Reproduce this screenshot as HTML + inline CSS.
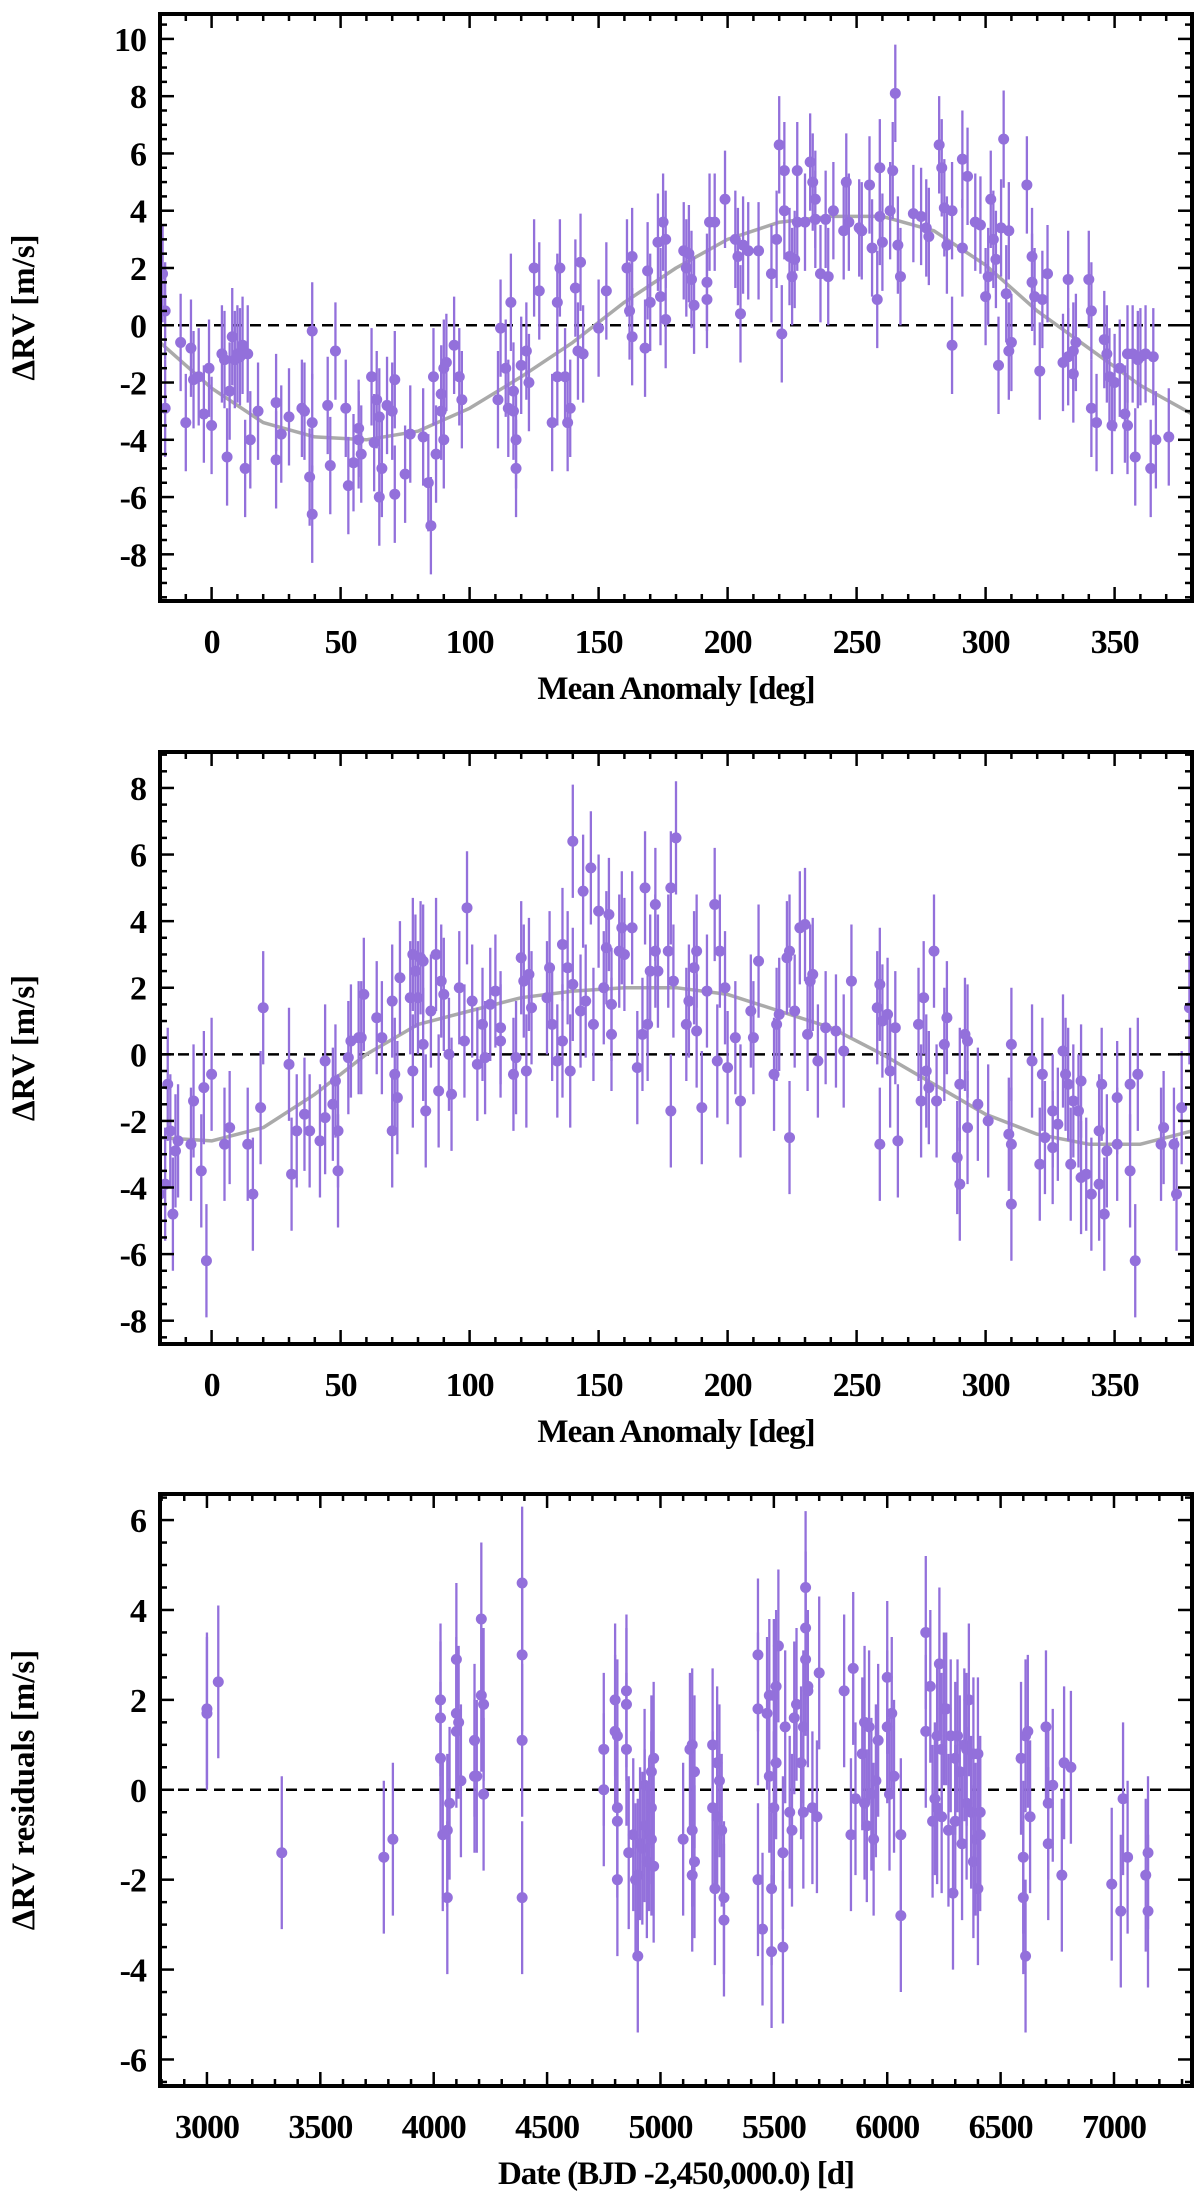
<!DOCTYPE html>
<html><head><meta charset="utf-8"><style>
html,body{margin:0;padding:0;background:#fff}
svg{display:block}
text{font-family:"Liberation Serif",serif;font-weight:bold;fill:#000}
</style></head><body>
<svg id="fig" width="1200" height="2193" viewBox="0 0 1200 2193" xmlns="http://www.w3.org/2000/svg"></svg>
<script>
// Panel 1: phase-folded RV, planet b
const p1Phase=[-19,-18,-18,-12,-10,-8,-7,-5,-3,-1,0,4,5,6,7,8,9,10,11,12,13,14,15,18,25,25,27,30,35,36,38,39,39,39,45,46,48,52,53,55,57,57,58,62,63,64,65,65,66,68,70,71,71,75,77,82,84,85,86,87,89,89,90,90,91,94,96,97,111,112,114,115,116,117,117,118,118,120,122,123,125,127,132,134,134,135,137,138,139,141,142,143,144,150,153,161,162,163,163,168,169,170,173,174,175,176,176,183,184,185,186,187,192,192,193,195,199,203,204,205,206,208,212,217,219,220,221,222,222,224,225,226,227,227,230,232,233,234,234,236,238,239,241,245,246,247,251,252,255,256,258,259,259,260,263,264,265,266,267,272,275,277,278,282,283,284,285,287,287,291,291,293,296,298,300,301,302,303,304,305,306,307,308,309,309,310,316,318,318,319,321,322,324,330,332,332,334,334,335,340,341,341,343,346,347,348,349,350,352,354,355,355,357,358,359,360,362,364,365,366,371];
const p1RV=[1.8,0.5,-2.9,-0.6,-3.4,-0.8,-1.9,-1.8,-3.1,-1.5,-3.5,-1.0,-1.2,-4.6,-2.3,-0.4,-1.2,-1.0,-1.1,-0.7,-5.0,-1.0,-4.0,-3.0,-2.7,-4.7,-3.8,-3.2,-2.9,-3.0,-5.3,-6.6,-3.4,-0.2,-2.8,-4.9,-0.9,-2.9,-5.6,-4.8,-4.0,-3.6,-4.5,-1.8,-4.1,-2.6,-6.0,-3.2,-5.0,-2.8,-3.0,-1.9,-5.9,-5.2,-3.8,-3.9,-5.5,-7.0,-1.8,-4.5,-3.0,-2.4,-1.5,-4.0,-1.3,-0.7,-1.8,-2.6,-2.6,-0.1,-1.5,-2.9,0.8,-3.0,-2.3,-5.0,-4.0,-1.4,-0.9,-2.0,2.0,1.2,-3.4,0.8,-1.8,2.0,-1.8,-3.4,-2.9,1.3,-0.9,2.2,-1.0,-0.1,1.2,2.0,0.5,2.4,-0.4,-0.8,1.9,0.8,2.9,1.0,3.6,0.2,3.0,2.6,2.0,2.5,1.6,0.7,1.5,0.9,3.6,3.6,4.4,3.0,2.4,0.4,2.8,2.6,2.6,1.8,3.0,6.3,-0.3,5.4,4.0,2.4,1.7,2.3,5.4,3.6,3.6,5.7,5.0,4.4,3.7,1.8,3.7,1.7,4.0,3.3,5.0,3.6,3.4,3.3,4.9,2.7,0.9,5.5,3.8,2.9,4.0,5.4,8.1,2.8,1.7,3.9,3.8,3.4,3.1,6.3,5.5,4.1,2.8,-0.7,4.0,2.7,5.8,5.2,3.6,3.5,1.0,1.7,4.4,3.0,2.3,-1.4,3.4,6.5,1.1,3.3,-0.9,-0.6,4.9,2.4,1.5,1.0,-1.6,0.9,1.8,-1.3,1.6,-1.1,-1.7,-0.9,-0.6,1.6,0.5,-2.9,-3.4,-0.5,-1.0,-1.8,-3.5,-2.0,-1.5,-3.1,-1.0,-3.5,-1.0,-4.6,-1.2,-1.1,-1.0,-5.0,-1.1,-4.0,-3.9];
const p1ModelPhase=[-20,0,20,40,60,80,100,120,140,160,180,200,220,240,260,280,300,320,340,360,380];
const p1ModelRV=[-0.6,-2.2,-3.4,-3.9,-4.0,-3.7,-2.9,-1.8,-0.6,0.8,2.0,3.0,3.6,3.8,3.8,3.3,2.1,0.5,-0.8,-2.1,-3.1];
const p1Err=1.7;
// Panel 2: phase-folded RV, planet c
const p2Phase=[-20,-18,-17,-16,-15,-14,-13,-8,-7,-3,-4,-2,0,5,7,14,16,19,20,30,31,33,36,38,42,44,44,47,48,49,49,53,54,57,58,59,64,66,70,70,71,72,73,77,78,78,79,80,81,82,82,83,85,87,88,89,90,92,93,96,98,99,101,103,105,106,108,110,112,112,117,118,120,121,122,123,124,130,131,132,134,136,136,138,139,140,140,143,144,145,147,148,150,152,153,154,155,155,158,159,160,163,165,167,168,169,170,172,172,173,177,178,178,179,180,184,185,187,188,188,190,192,195,196,197,199,200,203,205,209,210,212,218,219,220,223,224,224,226,228,230,231,232,233,235,238,242,245,248,258,259,259,260,262,263,265,266,274,275,276,277,278,280,281,284,285,289,290,290,292,293,293,297,301,309,310,310,310,318,321,322,323,326,326,328,330,331,332,333,334,336,337,337,339,341,344,344,345,346,347,351,351,356,356,358,359,368,369,373,374,376,379];
const p2RV=[-4.2,-3.9,-0.9,-2.3,-4.8,-2.9,-2.6,-2.7,-1.4,-1.0,-3.5,-6.2,-0.6,-2.7,-2.2,-2.7,-4.2,-1.6,1.4,-0.3,-3.6,-2.3,-1.8,-2.3,-2.6,-0.2,-1.9,-1.5,-0.8,-2.3,-3.5,-0.1,0.4,0.5,0.5,1.8,1.1,0.5,-2.3,1.6,-0.6,-1.3,2.3,1.7,3.0,-0.5,2.5,1.7,2.9,0.3,2.8,-1.7,1.3,3.0,-1.1,2.2,1.8,0.0,-1.2,2.0,0.4,4.4,1.6,-0.3,0.9,-0.1,1.5,1.9,0.8,0.4,-0.6,-0.1,2.9,2.2,-0.5,2.4,1.4,1.7,2.6,0.9,-0.2,3.3,0.4,2.6,-0.5,6.4,2.1,1.3,4.9,1.6,5.6,0.9,4.3,2.0,3.2,4.2,0.6,1.5,3.1,3.8,3.0,3.8,-0.4,0.6,5.0,0.9,2.5,4.5,3.1,2.5,3.1,-1.7,5.0,2.2,6.5,0.9,1.6,2.6,3.1,0.7,-1.6,1.9,4.5,-0.2,3.1,2.0,-0.4,0.5,-1.4,1.3,0.5,2.8,-0.6,0.9,1.2,2.9,3.1,-2.5,1.3,3.8,3.9,0.6,2.2,2.4,-0.2,0.8,0.7,0.1,2.2,1.4,2.1,-2.7,1.0,1.2,-0.5,0.8,-2.6,0.9,-1.4,1.7,-0.5,-1.0,3.1,-1.4,0.3,1.1,-3.1,-3.9,-0.9,0.6,-2.2,0.4,-1.5,-2.0,-2.4,-4.5,-2.7,0.3,-0.2,-3.3,-0.6,-2.5,-1.7,-2.8,-2.1,0.1,-0.6,-0.9,-3.3,-1.4,-1.7,-3.7,-0.8,-3.6,-4.2,-3.9,-2.3,-0.9,-4.8,-2.9,-2.7,-1.3,-3.5,-0.9,-6.2,-0.6,-2.7,-2.2,-2.7,-4.2,-1.6,1.4];
const p2ModelPhase=[-20,0,20,40,60,80,100,120,140,160,180,200,220,240,260,280,300,320,340,360,380];
const p2ModelRV=[-2.5,-2.6,-2.2,-1.2,0.0,0.9,1.3,1.7,1.9,2.0,2.0,1.8,1.3,0.8,0.0,-0.9,-1.8,-2.4,-2.7,-2.7,-2.3];
const p2Err=1.7;
// Panel 3: residuals vs date
const p3Date=[3000,3000,3050,3330,3780,3820,4030,4030,4030,4040,4060,4060,4070,4100,4100,4100,4110,4120,4180,4180,4190,4210,4210,4220,4220,4390,4390,4390,4390,4750,4750,4800,4800,4810,4810,4810,4810,4850,4850,4850,4860,4880,4890,4900,4900,4910,4920,4930,4930,4940,4950,4960,4960,4960,4970,4970,5100,5130,5140,5140,5140,5150,5150,5230,5230,5240,5250,5250,5260,5270,5280,5280,5430,5430,5430,5450,5470,5480,5480,5490,5490,5500,5500,5510,5510,5520,5540,5540,5550,5570,5580,5590,5600,5620,5630,5630,5640,5640,5640,5650,5650,5670,5690,5700,5810,5840,5850,5860,5890,5900,5900,5910,5920,5930,5940,5950,5960,6000,6000,6010,6020,6030,6060,6060,6170,6170,6190,6200,6210,6220,6220,6230,6240,6240,6250,6260,6270,6280,6290,6300,6300,6310,6320,6330,6340,6350,6350,6360,6370,6380,6380,6390,6400,6400,6410,6410,6590,6600,6600,6610,6610,6620,6630,6700,6710,6710,6730,6770,6780,6810,6990,7030,7040,7060,7140,7150,7150];
const p3Resid=[1.7,1.8,2.4,-1.4,-1.5,-1.1,2.0,1.6,0.7,-1.0,-0.9,-2.4,-0.3,1.7,1.3,2.9,1.5,0.2,1.1,0.3,0.3,2.1,3.8,1.9,-0.1,4.6,3.0,1.1,-2.4,0.9,0.0,2.0,1.3,1.2,-0.4,-0.7,-2.0,2.2,1.9,0.9,-1.4,-1.0,-2.0,-3.7,-1.9,-1.2,-1.3,0.1,-0.8,-1.6,-1.0,0.4,-0.4,-1.1,-1.7,0.7,-1.1,0.9,1.0,-0.9,-1.9,0.4,-1.6,1.0,-0.4,-2.2,-0.6,0.6,0.2,-0.9,-2.4,-2.9,3.0,1.8,-2.0,-3.1,1.7,2.1,0.3,-2.2,-3.6,-0.4,2.1,2.3,0.6,3.2,-1.4,-3.5,1.4,-0.5,-0.9,1.6,1.9,0.6,-0.5,1.4,3.6,4.5,2.9,2.2,2.3,-0.4,-0.6,2.6,2.2,-1.0,2.7,-0.2,0.8,-0.3,1.5,-0.8,1.4,-0.1,-1.1,0.2,1.1,2.5,1.4,-0.1,1.7,0.3,-1.0,-2.8,1.3,3.5,2.3,-0.7,-0.2,1.2,-0.4,2.8,0.9,-0.6,1.8,1.8,-0.9,1.2,-2.3,-0.7,0.7,1.2,0.4,-1.2,1.0,-0.3,0.9,2.0,-0.5,-1.6,0.8,-1.1,-2.2,0.8,-0.5,-1.0,0.7,-1.5,-2.4,1.2,-3.7,1.3,-0.6,1.4,-1.2,-0.3,0.1,-1.9,0.6,0.5,-2.1,-2.7,-0.2,-1.5,-1.9,-2.7,-1.4];
const p3Err=1.7;
const xTicks1=[0,50,100,150,200,250,300,350];
const yTicks1=[-8,-6,-4,-2,0,2,4,6,8,10];
const xTicks2=[0,50,100,150,200,250,300,350];
const yTicks2=[-8,-6,-4,-2,0,2,4,6,8];
const xTicks3=[3000,3500,4000,4500,5000,5500,6000,6500,7000];
const yTicks3=[-6,-4,-2,0,2,4,6];

const NS='http://www.w3.org/2000/svg';
const svg=document.getElementById('fig');
function mk(tag,attrs,parent){const e=document.createElementNS(NS,tag);for(const k in attrs)e.setAttribute(k,attrs[k]);(parent||svg).appendChild(e);return e;}

function panel(cfg){
  const g=mk('g',{});
  
  
  const L=160,R=1192,T=cfg.top,B=cfg.bottom;
  const sx=v=>L+(v-cfg.xmin)/(cfg.xmax-cfg.xmin)*(R-L);
  const sy=v=>B-(v-cfg.ymin)/(cfg.ymax-cfg.ymin)*(B-T);
  const clip='clip-'+cfg.name;
  const cp=mk('clipPath',{id:clip},g);mk('rect',{x:L,y:T,width:R-L,height:B-T},cp);
  const plot=mk('g',{'clip-path':'url(#'+clip+')'},g);
  const z=mk('line',{x1:L,x2:R,y1:sy(0),y2:sy(0),stroke:'#000','stroke-width':2.5,'stroke-dasharray':'11,7'},plot);
  
  
  if(cfg.mx){
    let d='';cfg.mx.forEach((x,i)=>{d+=(i?'L':'M')+sx(x).toFixed(1)+','+sy(cfg.my[i]).toFixed(1);});
    const m=mk('path',{d:d,fill:'none',stroke:'#aaaaaa','stroke-width':3.5,'stroke-linejoin':'round'},plot);
    
    
  }
  const pts=mk('g',{},plot);
  
  
  cfg.px.forEach((x,i)=>{
    const y=cfg.py[i];
    const eb=mk('line',{x1:sx(x),x2:sx(x),y1:sy(y-cfg.err),y2:sy(y+cfg.err),stroke:'#9370DB','stroke-width':2.3},pts);
    
    
    const c=mk('circle',{cx:sx(x),cy:sy(y),r:5.5,fill:'#9370DB'},pts);
    
    
  });
  const tk=mk('g',{stroke:'#000','stroke-width':2.5},g);
  
  
  const xs=Math.ceil(cfg.xmin/cfg.xminor);
  for(let k=xs;k*cfg.xminor<=cfg.xmax;k++){
    const v=k*cfg.xminor;const maj=Math.abs(v/cfg.xmajor-Math.round(v/cfg.xmajor))<1e-6;
    const len=maj?14:7;const X=sx(v);
    mk('line',{x1:X,x2:X,y1:B,y2:B-len},tk);mk('line',{x1:X,x2:X,y1:T,y2:T+len},tk);
  }
  const ys=Math.ceil(cfg.ymin/cfg.yminor);
  for(let k=ys;k*cfg.yminor<=cfg.ymax;k++){
    const v=k*cfg.yminor;const maj=Math.abs(v/cfg.ymajor-Math.round(v/cfg.ymajor))<1e-6;
    const len=maj?14:7;const Y=sy(v);
    mk('line',{x1:L,x2:L+len,y1:Y,y2:Y},tk);mk('line',{x1:R,x2:R-len,y1:Y,y2:Y},tk);
  }
  const f=mk('rect',{x:L,y:T,width:R-L,height:B-T,fill:'none',stroke:'#000','stroke-width':4},g);
  
  
  cfg.xt.forEach(v=>{const t=mk('text',{x:sx(v),y:B+52,'text-anchor':'middle','font-size':34,'letter-spacing':-1},g);t.textContent=v;
    });
  cfg.yt.forEach(v=>{const t=mk('text',{x:L-14,y:sy(v)+12,'text-anchor':'end','font-size':34,'letter-spacing':-1},g);t.textContent=v;
    });
  const xt=mk('text',{x:(L+R)/2,y:B+98,'text-anchor':'middle','font-size':33,'letter-spacing':-1},g);xt.textContent=cfg.xlabel;
  
  const yc=(T+B)/2;
  const yt=mk('text',{x:34,y:yc,'text-anchor':'middle','font-size':33,transform:'rotate(-90 34 '+yc+')'},g);yt.textContent=cfg.ylabel;
  
}
panel({name:'panel-b-phase',top:14,bottom:601,xmin:-20,xmax:380,ymin:-9.63,ymax:10.87,xmajor:50,xminor:10,ymajor:2,yminor:0.5,
  px:p1Phase,py:p1RV,err:p1Err,mx:p1ModelPhase,my:p1ModelRV,xt:xTicks1,yt:yTicks1,xlabel:'Mean Anomaly [deg]',ylabel:'ΔRV [m/s]'});
panel({name:'panel-c-phase',top:752,bottom:1344,xmin:-20,xmax:380,ymin:-8.7,ymax:9.08,xmajor:50,xminor:10,ymajor:2,yminor:0.5,
  px:p2Phase,py:p2RV,err:p2Err,mx:p2ModelPhase,my:p2ModelRV,xt:xTicks2,yt:yTicks2,xlabel:'Mean Anomaly [deg]',ylabel:'ΔRV [m/s]'});
panel({name:'panel-residuals',top:1494,bottom:2086,xmin:2793,xmax:7344,ymin:-6.59,ymax:6.58,xmajor:500,xminor:100,ymajor:2,yminor:0.5,
  px:p3Date,py:p3Resid,err:p3Err,xt:xTicks3,yt:yTicks3,xlabel:'Date (BJD -2,450,000.0) [d]',ylabel:'ΔRV residuals [m/s]'});
</script>
</body></html>
